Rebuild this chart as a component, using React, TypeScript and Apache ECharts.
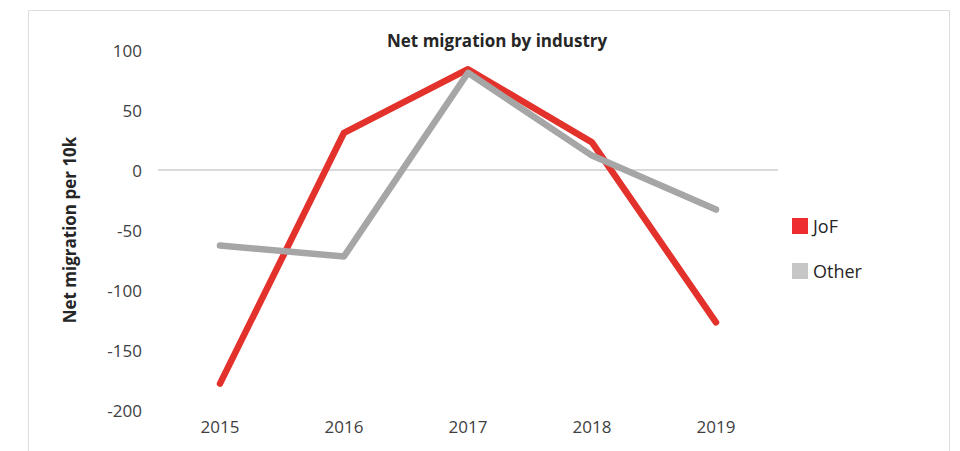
import React, { useEffect, useRef } from "react";
import * as echarts from "echarts";

const years = ["2015", "2016", "2017", "2018", "2019"];
const jofValues = [-178, 31, 84, 23, -127];
const otherValues = [-63, -72, 81, 12, -33];
const yMin = -200;
const yMax = 100;
const yStep = 50;

const FONT = "'Open Sans', 'Noto Sans', sans-serif";

export default function App() {
  const ref = useRef<HTMLDivElement>(null);
  useEffect(() => {
    document.body.style.margin = "0";
    const chart = echarts.init(ref.current!, null, { renderer: "svg" });
    chart.setOption({
      animation: false,
      backgroundColor: "#ffffff",
      textStyle: { fontFamily: FONT },
      title: {
        text: "Net migration by industry",
        left: 382,
        top: 27,
        textStyle: { fontFamily: FONT, fontSize: 17, fontWeight: "bold", color: "#262626" },
      },
      graphic: [
        {
          type: "rect",
          shape: { x: 28.5, y: 10.5, width: 921, height: 460 },
          style: { fill: "none", stroke: "#dedede", lineWidth: 1 },
          silent: true,
        },
      ],
      legend: {
        orient: "vertical",
        left: 787,
        top: 212,
        itemWidth: 16,
        itemHeight: 16,
        itemGap: 27,
        icon: "rect",
        textStyle: { fontFamily: FONT, fontSize: 18, color: "#262626" },
        data: ["JoF", "Other"],
      },
      grid: { left: 158, right: 182, top: 50, bottom: 41 },
      xAxis: {
        type: "category",
        data: years,
        boundaryGap: true,
        axisLine: { show: false },
        axisTick: { show: false },
        axisLabel: { fontFamily: FONT, fontSize: 17, color: "#404040", margin: 8 },
      },
      yAxis: {
        type: "value",
        min: yMin,
        max: yMax,
        interval: yStep,
        name: "Net migration per 10k",
        nameLocation: "middle",
        nameRotate: 90,
        nameGap: 80,
        nameTextStyle: { fontFamily: FONT, fontSize: 17, fontWeight: "bold", color: "#262626" },
        axisLine: { show: false },
        axisTick: { show: false },
        splitLine: { show: false },
        axisLabel: { fontFamily: FONT, fontSize: 17, color: "#404040", margin: 16 },
      },
      series: [
        {
          name: "JoF",
          type: "line",
          data: jofValues,
          showSymbol: false,
          symbol: "none",
          z: 3,
          lineStyle: { color: "#e3312c", width: 6.5, cap: "round", join: "round" },
          itemStyle: { color: "#ee2e2e" },
          markLine: {
            silent: true,
            symbol: "none",
            label: { show: false },
            lineStyle: { color: "#d9d9d9", width: 2, type: "solid" },
            data: [{ yAxis: 0 }],
            z: 1,
          },
        },
        {
          name: "Other",
          type: "line",
          data: otherValues,
          showSymbol: false,
          symbol: "none",
          z: 4,
          lineStyle: { color: "#a6a6a6", width: 6.5, cap: "round", join: "round" },
          itemStyle: { color: "#c6c6c6" },
        },
      ],
    });
    return () => chart.dispose();
  }, []);
  return <div ref={ref} style={{ width: 960, height: 451, position: "absolute", left: 0, top: 0 }} />;
}
